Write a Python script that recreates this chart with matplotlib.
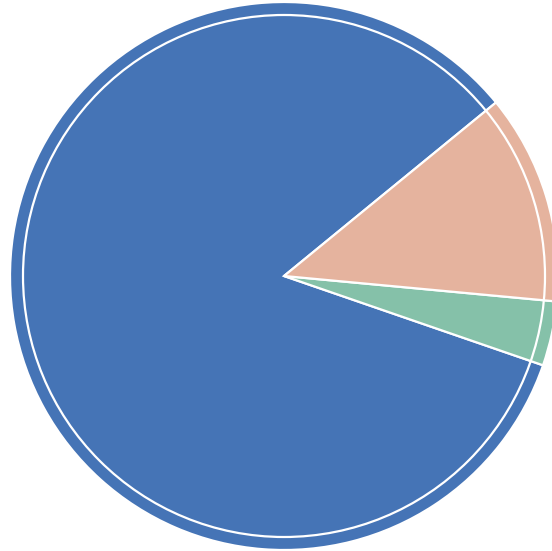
import matplotlib
matplotlib.use("Agg")
import matplotlib.pyplot as plt
from matplotlib.patches import Circle

labels = ["Blue", "Green", "Salmon"]
values = [83.8, 3.8, 12.4]
colors = ["#4574b6", "#85c1a9", "#e5b39e"]

W, H = 552, 551
fig = plt.figure(figsize=(W / 100, H / 100), dpi=100)
ax = fig.add_axes([0, 0, 1, 1])
ax.set_xlim(0, W)
ax.set_ylim(0, H)
ax.set_aspect("equal")
ax.axis("off")

cx, cy = 284, H - 276
ax.pie(values, colors=colors, startangle=39.3, counterclock=True,
       radius=274, center=(cx, cy),
       wedgeprops=dict(edgecolor="white", linewidth=1.6))
ax.set_xlim(0, W)
ax.set_ylim(0, H)
ax.add_patch(Circle((cx, cy), 261, fill=False, edgecolor="white", linewidth=1.6))

fig.savefig("out.png", dpi=100)
